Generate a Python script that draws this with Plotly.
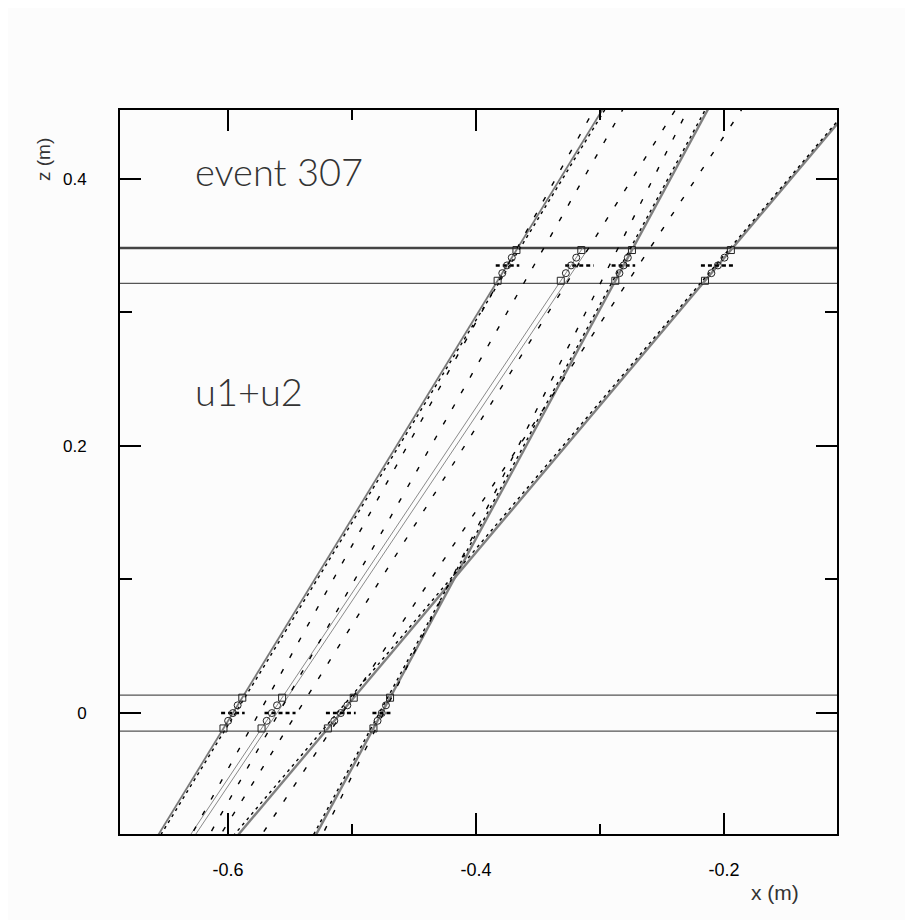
import plotly.graph_objects as go

# ---------------- data (metres) ----------------
# detector planes
upper_planes = [0.3215, 0.348]
lower_planes = [-0.0135, 0.0135]
z_low_hit = 0.0
z_up_hit = 0.335

# solid (fitted) tracks: x at z = 0 and at z = 0.335, plus upper end of the drawn track
solid_x_low = [-0.596, -0.5646, -0.5605, -0.476, -0.509]
solid_x_up = [-0.375, -0.3234, -0.3187, -0.281, -0.205]
solid_z_end = [0.47, 0.348, 0.348, 0.47, 0.47]

# dashed (candidate) tracks: x at z = 0 and at z = 0.335
dashed_x_low = [-0.594, -0.5749, -0.559, -0.5444, -0.5078, -0.4744, -0.512, -0.478]
dashed_x_up = [-0.373, -0.3746, -0.3533, -0.318, -0.269, -0.2925, -0.207, -0.283]

# hit clusters in each plane: centre and half width
hit_low_center = [-0.596, -0.558, -0.509, -0.476]
hit_low_half = [0.0095, 0.0125, 0.012, 0.0075]
hit_up_center = [-0.3746, -0.3166, -0.2812, -0.2047]
hit_up_half = [0.0095, 0.0115, 0.0095, 0.014]

# hit layers inside each chamber (offset from chamber centre)
layer_offsets = [-0.0115, -0.0058, 0.0, 0.0058, 0.0115]

x_ticks = [-0.6, -0.4, -0.2]
x_ticktext = ["-0.6", "-0.4", "-0.2"]
x_minor = [-0.5, -0.3]
y_ticks = [0.0, 0.2, 0.4]
y_ticktext = ["0", "0.2", "0.4"]
y_minor = [0.1, 0.3]

x_range = [-0.687, -0.109]
z_range = [-0.0905, 0.4513]

# ---------------- figure ----------------
W, H = 913, 920
ML, MR, MT, MB = 112, 84, 102, 94


def xpos(x_low, x_up, z):
    return x_low + (x_up - x_low) * z / z_up_hit


def px2paper(px, py):
    return (px - ML) / (W - ML - MR), 1 - (py - MT) / (H - MT - MB)


fig = go.Figure()
z_start = -0.1

# solid tracks
solid_styles = [
    dict(color="#7a7a7a", width=1.8),
    dict(color="#8a8a8a", width=1.0),
    dict(color="#8a8a8a", width=1.0),
    dict(color="#808080", width=2.4),
    dict(color="#808080", width=2.4),
]
for xl, xu, ze, st in zip(solid_x_low, solid_x_up, solid_z_end, solid_styles):
    zs = [z_start, ze]
    fig.add_trace(go.Scatter(x=[xpos(xl, xu, z) for z in zs], y=zs, mode="lines",
                             line=st, hoverinfo="skip", showlegend=False))

# dashed tracks
overlay_idx = {0, 6, 7}
for i, (xl, xu) in enumerate(zip(dashed_x_low, dashed_x_up)):
    zs = [z_start, 0.47]
    dash = "3px,4px" if i in overlay_idx else "5px,13px"
    fig.add_trace(go.Scatter(x=[xpos(xl, xu, z) for z in zs], y=zs, mode="lines",
                             line=dict(color="black", width=1.4, dash=dash),
                             hoverinfo="skip", showlegend=False))

# hit strips
for centers, halves, zc in [(hit_low_center, hit_low_half, z_low_hit),
                            (hit_up_center, hit_up_half, z_up_hit)]:
    for c, h in zip(centers, halves):
        fig.add_trace(go.Scatter(x=[c - h, c + h], y=[zc, zc], mode="lines",
                                 line=dict(color="black", width=2.5, dash="4px,3px"),
                                 hoverinfo="skip", showlegend=False))

# hit markers along solid tracks
mx, my, ms = [], [], []
for k, (xl, xu) in enumerate(zip(solid_x_low, solid_x_up)):
    if k == 2:
        continue
    for zc in (z_low_hit, z_up_hit):
        for j, off in enumerate(layer_offsets):
            z = zc + off
            mx.append(xpos(xl, xu, z))
            my.append(z)
            ms.append("square-open" if j in (0, 4) else "circle-open")
fig.add_trace(go.Scatter(x=mx, y=my, mode="markers",
                         marker=dict(symbol=ms, size=7, color="#222",
                                     line=dict(width=1, color="#222")),
                         hoverinfo="skip", showlegend=False))

# chamber planes
for z in lower_planes + upper_planes[:1]:
    fig.add_shape(type="line", xref="paper", x0=0, x1=1, y0=z, y1=z,
                  line=dict(color="#555", width=1.3), layer="below")
fig.add_shape(type="line", xref="paper", x0=0, x1=1, y0=upper_planes[1], y1=upper_planes[1],
              line=dict(color="#444", width=2.6), layer="below")

tickfont = dict(family="Liberation Sans, Arial, sans-serif", size=18, color="black")
fig.update_xaxes(range=x_range, showline=True, linecolor="black", linewidth=2,
                 mirror="allticks", ticks="inside", ticklen=21, tickwidth=1.5,
                 tickcolor="black", tickvals=x_ticks, ticktext=x_ticktext,
                 minor=dict(tickvals=x_minor, ticks="inside", ticklen=10,
                            tickwidth=1.5, tickcolor="black", showgrid=False),
                 showgrid=False, zeroline=False, tickfont=tickfont,
                 ticklabelstandoff=18)
fig.update_yaxes(range=z_range, showline=True, linecolor="black", linewidth=2,
                 mirror="allticks", ticks="inside", ticklen=21, tickwidth=1.5,
                 tickcolor="black", tickvals=y_ticks, ticktext=y_ticktext,
                 minor=dict(tickvals=y_minor, ticks="inside", ticklen=12,
                            tickwidth=1.5, tickcolor="black", showgrid=False),
                 showgrid=False, zeroline=False, tickfont=dict(tickfont, size=17),
                 ticklabelstandoff=28)

annots = []
tx, ty = px2paper(185, 163)
annots.append(dict(text="event 307", x=tx, y=ty, xanchor="left", yanchor="middle"))
tx, ty = px2paper(185, 383)
annots.append(dict(text="u1+u2", x=tx, y=ty, xanchor="left", yanchor="middle"))
for a in annots:
    fig.add_annotation(xref="paper", yref="paper", showarrow=False,
                       font=dict(family="Lato, Liberation Sans, sans-serif", size=38,
                                 color="#333", weight=300), **a)

tx, ty = px2paper(767, 884)
fig.add_annotation(text="x (m)", xref="paper", yref="paper", x=tx, y=ty, showarrow=False,
                   xanchor="center", yanchor="middle",
                   font=dict(family="Liberation Sans, sans-serif", size=21, color="#333"))
tx, ty = px2paper(35, 152)
fig.add_annotation(text="z (m)", xref="paper", yref="paper", x=tx, y=ty, showarrow=False,
                   xanchor="center", yanchor="middle", textangle=-90,
                   font=dict(family="Liberation Sans, sans-serif", size=19, color="#333"))

fig.update_layout(width=W, height=H, margin=dict(l=ML, r=MR, t=MT, b=MB),
                  paper_bgcolor="#fcfcfc", plot_bgcolor="#fcfcfc", showlegend=False)

fig.write_html("out.html")
